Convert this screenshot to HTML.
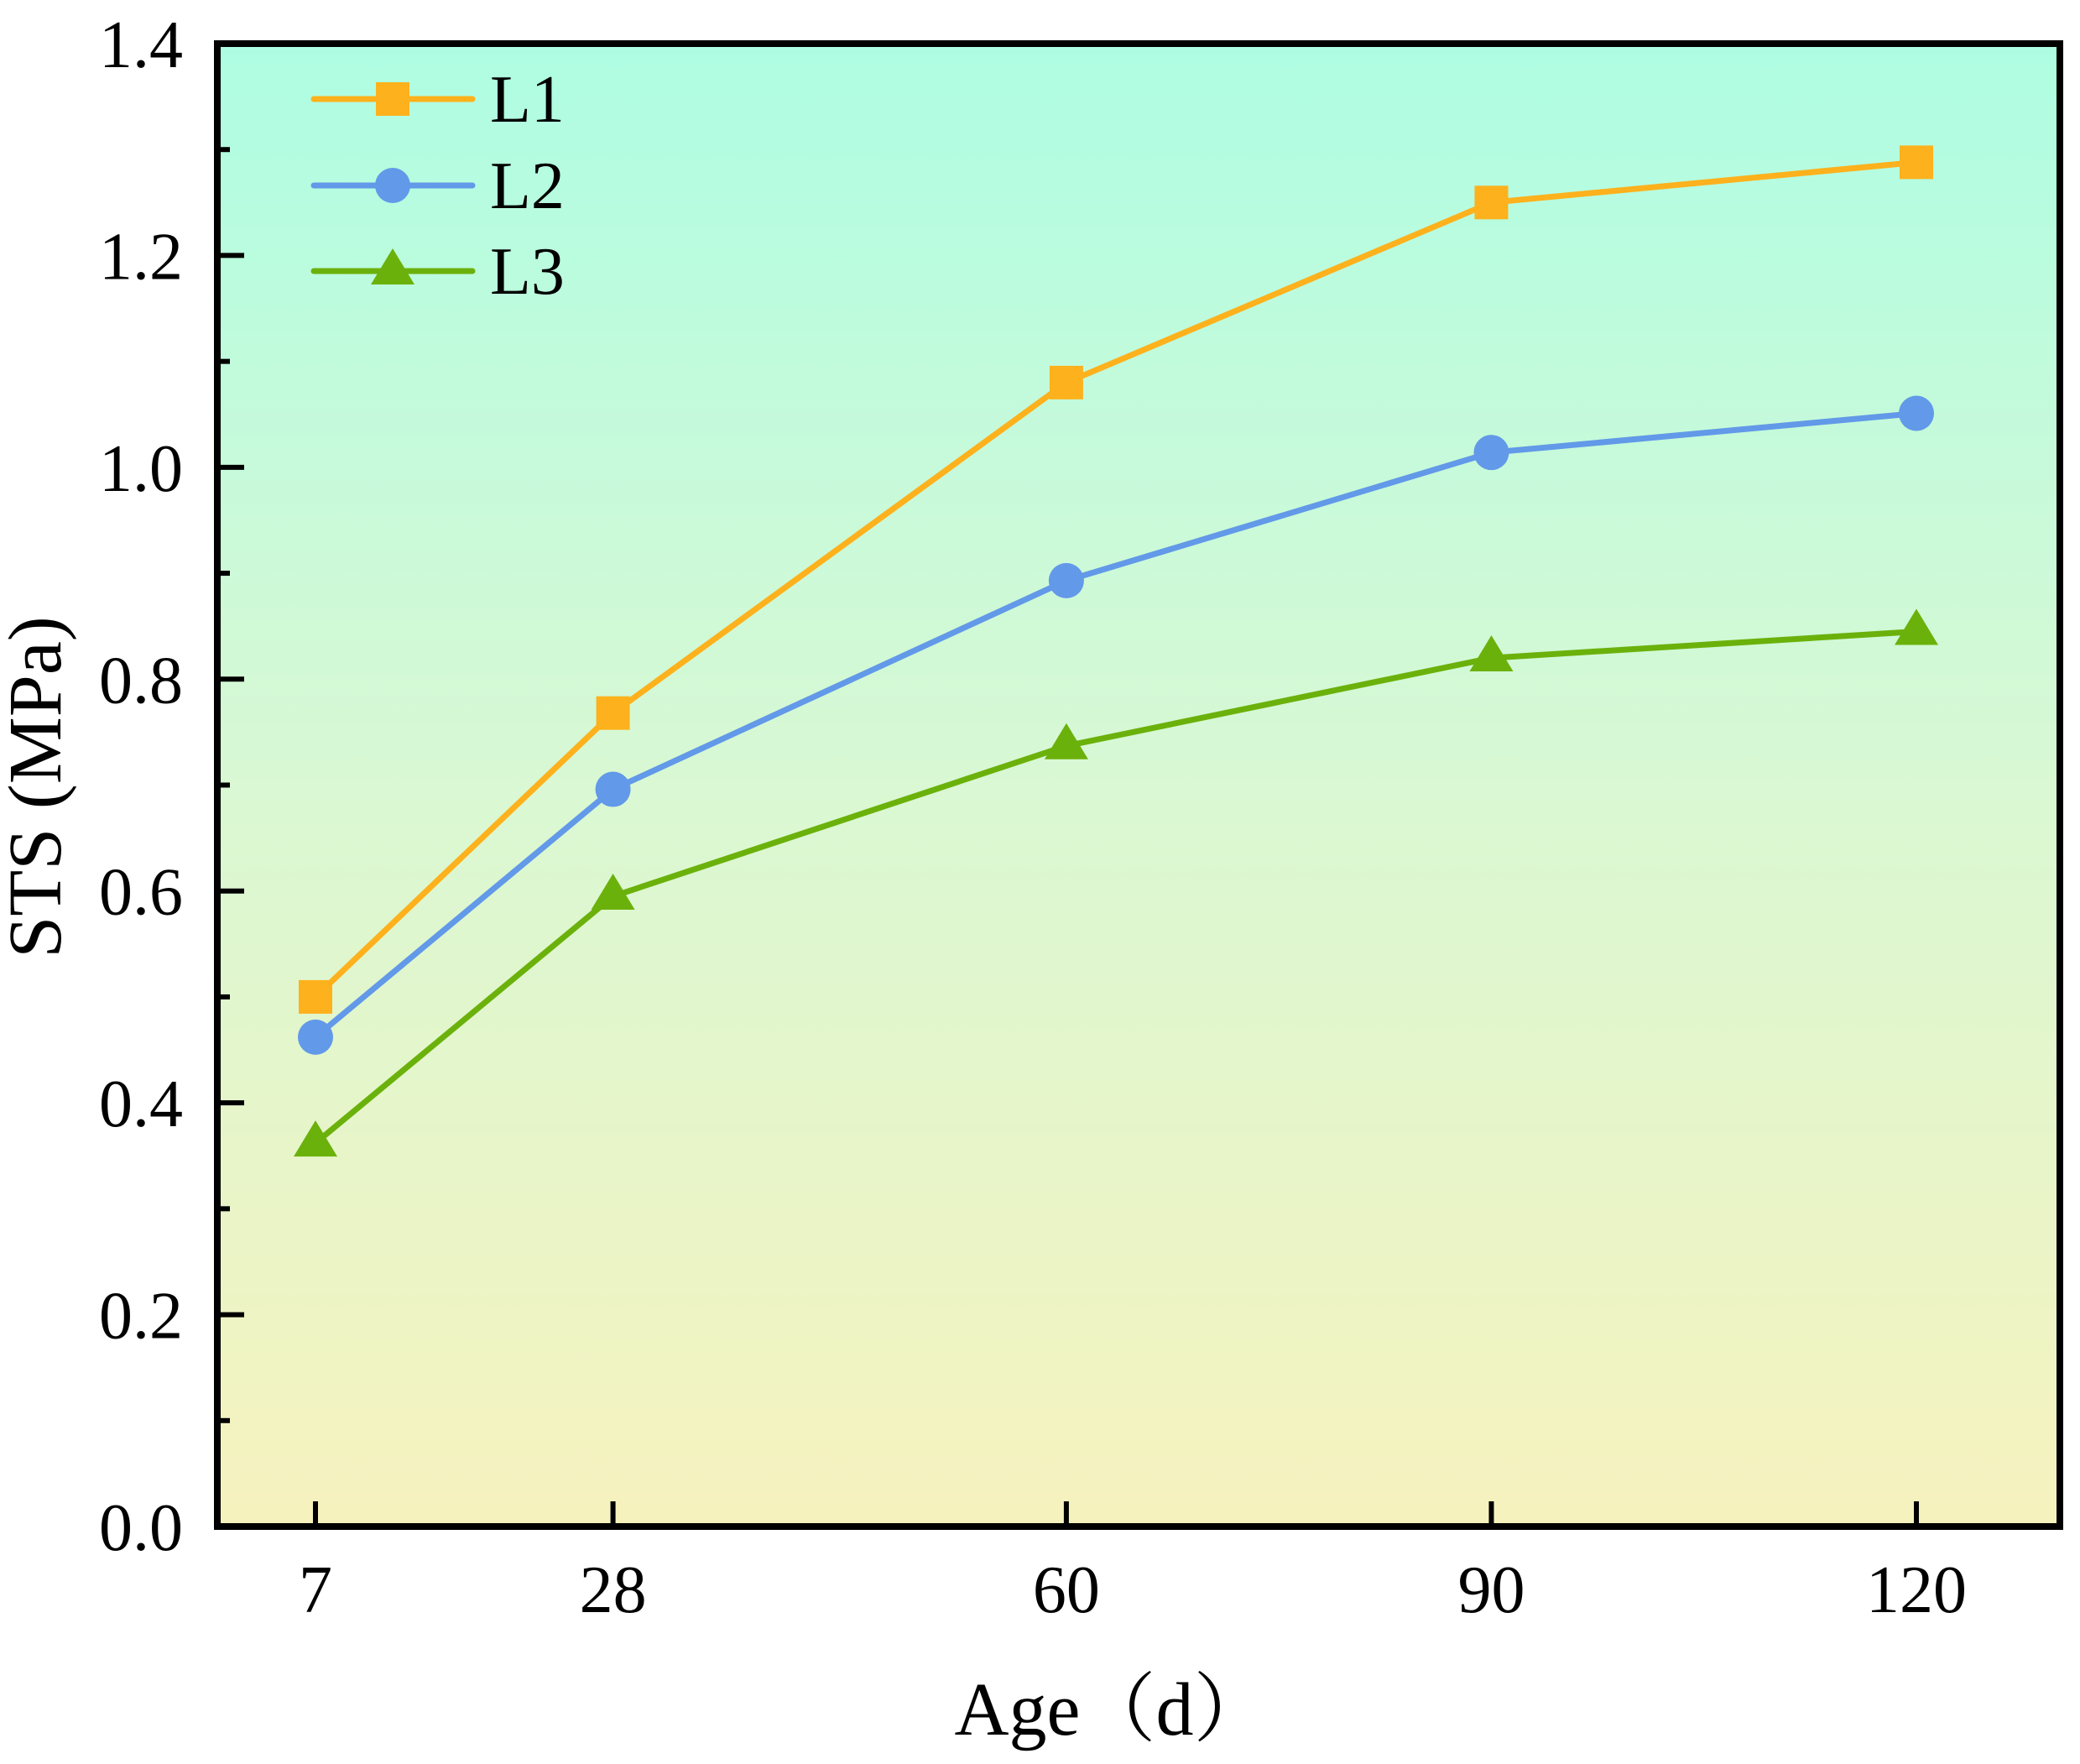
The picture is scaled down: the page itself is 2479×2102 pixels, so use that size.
<!DOCTYPE html>
<html><head><meta charset="utf-8"><style>
html,body{margin:0;padding:0;background:#fff;}
svg{display:block;font-family:"Liberation Serif","Times New Roman",serif;}
</style></head><body>
<svg id="chart" width="2479" height="2102" viewBox="0 0 2479 2102">
<defs><linearGradient id="bg" x1="0" y1="0" x2="0" y2="1">
<stop offset="0" stop-color="#aefde3"/><stop offset="0.5" stop-color="#d9f8d3"/><stop offset="1" stop-color="#f6f2be"/>
</linearGradient></defs>
<rect x="259" y="52" width="2196" height="1767" fill="url(#bg)"/>
<g id="ticks"></g>
<g id="series"></g>
<rect x="259" y="52" width="2196" height="1767" fill="none" stroke="#000" stroke-width="8"/>
<text x="1325" y="2067" font-size="90" text-anchor="middle" font-family="Liberation Serif, Noto Serif CJK SC, serif">Age（d）</text>
<text transform="translate(72,938) rotate(-90)" font-size="90" text-anchor="middle">STS (MPa)</text>
<g id="legend"></g>
</svg>
<script>
const days = [7, 28, 60, 90, 120];
const l1 = [0.5, 0.768, 1.08, 1.25, 1.288];
const l2 = [0.462, 0.696, 0.893, 1.014, 1.051];
const l3 = [0.362, 0.595, 0.737, 0.82, 0.845];
const yTicks = [0, 0.2, 0.4, 0.6, 0.8, 1.0, 1.2, 1.4];
const names = ['L1', 'L2', 'L3'];
const NS = 'http://www.w3.org/2000/svg';
function xs(d){ return 376 + (d - 7) * (2284 - 376) / 113; }
function ys(v){ return 1819 - v * (1819 - 52) / 1.4; }
function mk(tag, attrs, parent){ const e = document.createElementNS(NS, tag); for (const k in attrs) e.setAttribute(k, attrs[k]); parent.appendChild(e); return e; }
const tg = document.getElementById('ticks');
yTicks.forEach((v, i) => {
  const t = mk('line', {x1:259, x2:291, y1:ys(v), y2:ys(v), stroke:'#000', 'stroke-width':6}, tg);
  
  
  if (i < yTicks.length - 1) {
    const m = mk('line', {x1:259, x2:274, y1:ys(v + 0.1), y2:ys(v + 0.1), stroke:'#000', 'stroke-width':6}, tg);
    
    
  }
  const l = mk('text', {x:218, y:ys(v) + 28, 'font-size':80, 'text-anchor':'end'}, tg);
  l.textContent = v.toFixed(1);
  
  
});
days.forEach(d => {
  const t = mk('line', {x1:xs(d), x2:xs(d), y1:1819, y2:1789, stroke:'#000', 'stroke-width':6}, tg);
  
  
  const l = mk('text', {x:xs(d), y:1921, 'font-size':80, 'text-anchor':'middle'}, tg);
  l.textContent = d;
  
  
});
const colors = ['#fdb11c', '#6299e8', '#6bb10b'];
const shapes = ['square', 'circle', 'triangle'];
function marker(shape, x, y, c, parent){
  let e;
  if (shape === 'square') e = mk('rect', {x:x-20, y:y-20, width:40, height:40, fill:c}, parent);
  else if (shape === 'circle') e = mk('circle', {cx:x, cy:y, r:21, fill:c}, parent);
  else e = mk('polygon', {points:`${x},${y-27} ${x+26},${y+16} ${x-26},${y+16}`, fill:c}, parent);
  return e;
}
const sg = document.getElementById('series');
[l1, l2, l3].forEach((vals, si) => {
  const pts = vals.map((v, i) => xs(days[i]) + ',' + ys(v)).join(' ');
  const pl = mk('polyline', {points:pts, fill:'none', stroke:colors[si], 'stroke-width':7, 'stroke-linejoin':'round'}, sg);
  
  
  vals.forEach((v, i) => {
    const m = marker(shapes[si], xs(days[i]), ys(v), colors[si], sg);
    
    
  });
});
const lg = document.getElementById('legend');
const ly = [118, 221, 323];
names.forEach((n, i) => {
  const g = mk('g', {}, lg);
  
  
  mk('line', {x1:374, x2:563, y1:ly[i], y2:ly[i], stroke:colors[i], 'stroke-width':7, 'stroke-linecap':'round'}, g);
  marker(shapes[i], 468, ly[i], colors[i], g);
  const t = mk('text', {x:584, y:ly[i] + 27, 'font-size':80}, g);
  t.textContent = n;
});
</script>
</body></html>
